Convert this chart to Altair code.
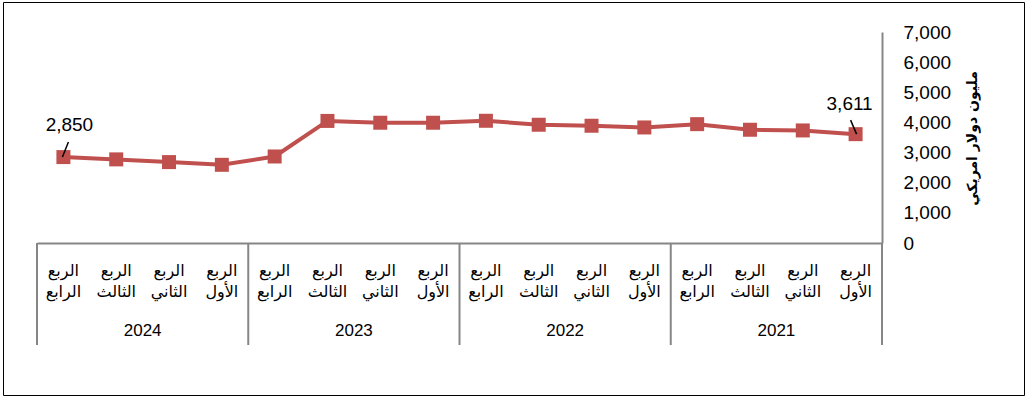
import altair as alt
import pandas as pd

# ---- data (chronological: 2021 Q1 ... 2024 Q4) ----
years = ["2021", "2022", "2023", "2024"]
quarter_names = ["الأول", "الثاني", "الثالث", "الرابع"]
quarter_word = "الربع"
values = [3611, 3734, 3757, 3943,
          3833, 3890, 3923, 4055,
          3990, 3990, 4050, 2870,
          2594, 2684, 2774, 2850]
labelled_points = [0, 15]  # first and last quarter carry a value label
y_ticks = [0, 1000, 2000, 3000, 4000, 5000, 6000, 7000]
y_title = "مليون دولار امريكي"

rows = []
for yi, yr in enumerate(years):
    for qi, qn in enumerate(quarter_names):
        idx = yi * 4 + qi
        rows.append({"idx": idx, "year": yr, "qlabel": quarter_word + "\n" + qn,
                     "value": values[idx]})
df = pd.DataFrame(rows)

years_df = pd.DataFrame({"year": years,
                         "mid": [i * 4 + 1.5 for i in range(len(years))]})
bounds_df = pd.DataFrame({"b": [i * 4 - 0.5 for i in range(len(years) + 1)]})

RED = "#C0504D"
GRAY = "#868686"
NUM_FONT = "Liberation Sans"
AR_FONT = "DejaVu Sans"

xscale = alt.Scale(domain=[-0.5, 15.5], reverse=True, nice=False, zero=False)
yscale = alt.Scale(domain=[0, 7000], nice=False)

AX_X = alt.Axis(labels=False, ticks=False, grid=False, title=None,
                domainColor=GRAY, domainWidth=2)
AX_Y = alt.Axis(orient="right", values=y_ticks,
                labelExpr="format(datum.value, ',')",
                labelOverlap=False, labelFlush=False,
                ticks=False, grid=False, domainColor=GRAY, domainWidth=2,
                labelFont=NUM_FONT, labelFontSize=19, labelColor="black",
                labelPadding=21, labelAlign="left",
                title=y_title, titleFont=AR_FONT, titleFontSize=14,
                titleFontWeight="bold", titleColor="black",
                titleAngle=270, titleAlign="center", titleBaseline="middle",
                titleX=90, titleY=106)


def X(field="idx:Q"):
    return alt.X(field, scale=xscale, axis=AX_X)


def Y(field="value:Q"):
    return alt.Y(field, scale=yscale, axis=AX_Y)


base = alt.Chart(df)

line = base.mark_line(color=RED, strokeWidth=4).encode(x=X(), y=Y())

points = base.mark_square(color=RED, size=196, opacity=1).encode(x=X(), y=Y())

first = base.transform_filter(alt.datum.idx == labelled_points[0])
last = base.transform_filter(alt.datum.idx == labelled_points[1])

lab_first = first.mark_text(font=NUM_FONT, fontSize=19, color="black",
                            dx=-6, dy=-30, baseline="middle").encode(
    x=X(), y=Y(), text=alt.Text("value:Q", format=","))
lab_last = last.mark_text(font=NUM_FONT, fontSize=19, color="black",
                          dx=6, dy=-32, baseline="middle").encode(
    x=X(), y=Y(), text=alt.Text("value:Q", format=","))

lead_first = first.mark_rule(color="black", strokeWidth=1.5,
                             xOffset=-5, yOffset=-14, x2Offset=1, y2Offset=0).encode(
    x=X(), y=Y(), x2="idx:Q", y2="value:Q")
lead_last = last.mark_rule(color="black", strokeWidth=1.5,
                           xOffset=5, yOffset=-15, x2Offset=-1, y2Offset=0).encode(
    x=X(), y=Y(), x2="idx:Q", y2="value:Q")

qlabels = base.mark_text(font=AR_FONT, fontSize=16, color="black", lineBreak="\n",
                         lineHeight=21, align="center", baseline="middle").encode(
    x=X(), y=alt.value(239), text="qlabel:N")

ylabels = alt.Chart(years_df).mark_text(font=NUM_FONT, fontSize=17, color="black",
                                        baseline="middle").encode(
    x=X("mid:Q"), y=alt.value(299), text="year:N")

seps = alt.Chart(bounds_df).mark_rule(color=GRAY, strokeWidth=2).encode(
    x=X("b:Q"), y=alt.value(211), y2=alt.value(313))

border = alt.Chart(pd.DataFrame({"k": [0]})).mark_rect(
    fill=None, filled=False, stroke="black", strokeWidth=1).encode(
    x=alt.value(-33.5), x2=alt.value(987.5), y=alt.value(-29.5), y2=alt.value(363.5))

chart = alt.layer(line, border, seps, points, lead_first, lead_last,
                  lab_first, lab_last, qlabels, ylabels).properties(
    width=845, height=211,
    autosize=alt.AutoSizeParams(type="none"),
    padding={"left": 37, "top": 32, "right": 145, "bottom": 156},
    background="white",
).configure_view(stroke=None)

chart.save("out.html", embed_options={"renderer": "svg", "actions": False})
